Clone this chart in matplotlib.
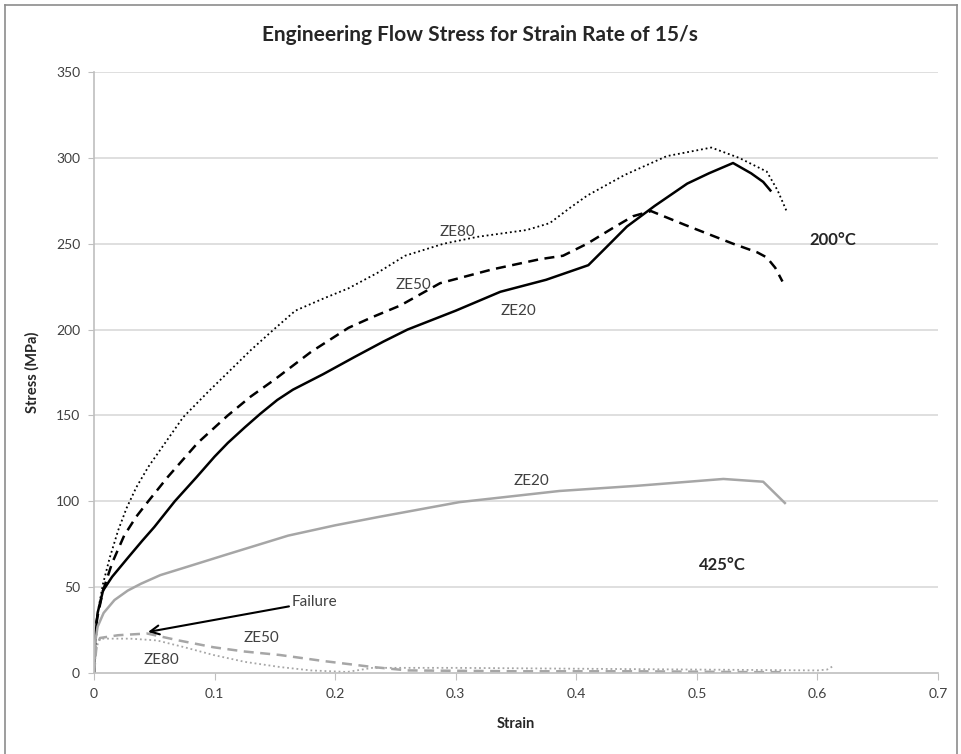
import matplotlib
matplotlib.use("Agg")
import matplotlib.pyplot as plt
from matplotlib.lines import Line2D

plt.rcParams['font.family'] = ['Lato', 'DejaVu Sans']

# ---- data ----
ze20_200_x = [0, 0.001, 0.003, 0.0075, 0.015, 0.028, 0.04, 0.05, 0.067, 0.085, 0.1, 0.111, 0.125, 0.138, 0.152, 0.165,
              0.19, 0.216, 0.24, 0.26, 0.3, 0.337, 0.375, 0.41, 0.425, 0.442, 0.465, 0.492, 0.51, 0.53, 0.545, 0.555, 0.561]
ze20_200_y = [0, 20, 35, 48, 56, 67, 77, 85, 100, 114, 126, 134, 143, 151, 159, 165,
              174, 184, 193, 200, 211, 222, 229, 237.5, 248, 260, 272, 285, 291, 297, 291, 286, 281]

ze50_200_x = [0, 0.002, 0.0075, 0.015, 0.025, 0.035, 0.045, 0.061, 0.086, 0.111, 0.13, 0.150, 0.18, 0.211, 0.23, 0.254, 0.287,
              0.33, 0.37, 0.389, 0.409, 0.43, 0.447, 0.462, 0.49, 0.53, 0.55, 0.558, 0.565, 0.571]
ze50_200_y = [0, 30, 48, 64, 80, 91, 100, 114, 134, 150, 161, 171, 187, 201, 207, 214, 227,
              235, 241, 243, 250, 259, 266, 269, 261, 250, 245, 242, 236, 228]

ze80_200_x = [0, 0.003, 0.0075, 0.013, 0.02, 0.027, 0.035, 0.045, 0.055, 0.074, 0.095, 0.114, 0.13, 0.149, 0.167, 0.19, 0.211,
              0.235, 0.258, 0.29, 0.318, 0.359, 0.378, 0.395, 0.409, 0.44, 0.475, 0.512, 0.535, 0.558, 0.567, 0.575]
ze80_200_y = [0, 35, 52, 67, 83, 96, 108, 120, 130, 149, 164, 177, 188, 200, 211, 218, 224,
              233, 243, 250, 254, 258, 262, 271, 278, 290, 301, 306, 300, 292, 281, 268]

ze20_425_x = [0, 0.001, 0.003, 0.008, 0.017, 0.028, 0.039, 0.055, 0.078, 0.11, 0.161, 0.2, 0.237, 0.303, 0.386, 0.45, 0.522,
              0.555, 0.573]
ze20_425_y = [0, 18, 27, 35, 42.5, 48, 52, 57, 62, 69, 80, 86, 91, 99.5, 106, 109, 113, 111.4, 99]

ze50_425_x = [0, 0.002, 0.005, 0.02, 0.044, 0.07, 0.099, 0.125, 0.154, 0.19, 0.231, 0.26, 0.35, 0.45, 0.55, 0.57]
ze50_425_y = [0, 15, 20.4, 22, 23, 19, 15, 12.5, 10.5, 7, 3.5, 1.5, 1, 1, 0.5, 0.5]

ze80_425_x = [0, 0.002, 0.005, 0.03, 0.052, 0.075, 0.099, 0.125, 0.154, 0.18, 0.21, 0.231, 0.3, 0.4, 0.5, 0.6, 0.608, 0.613]
ze80_425_y = [0, 15, 20, 20, 19, 15, 10.5, 6.5, 3.5, 1.5, 0.6, 3, 3, 2.5, 2, 1.5, 2, 4]

x_ticks = [0, 0.1, 0.2, 0.3, 0.4, 0.5, 0.6, 0.7]
x_tick_labels = ["0", "0.1", "0.2", "0.3", "0.4", "0.5", "0.6", "0.7"]
y_ticks = [0, 50, 100, 150, 200, 250, 300, 350]
y_tick_labels = ["0", "50", "100", "150", "200", "250", "300", "350"]

title = "Engineering Flow Stress for Strain Rate of 15/s"

# ---- figure ----
fig = plt.figure(figsize=(9.61, 7.54), dpi=100)
ax = fig.add_axes([94/961, 1-673/754, (938-94)/961, (673-72)/754])

grid_c = '#d9d9d9'
for yv in y_ticks[1:]:
    ax.axhline(yv, color=grid_c, lw=1.2, zorder=0)

black = '#000000'
gray = '#a6a6a6'
ax.plot(ze20_200_x, ze20_200_y, color=black, lw=1.8, solid_joinstyle='round')
ax.plot(ze50_200_x, ze50_200_y, color=black, lw=1.8, dashes=(4, 2.6), dash_joinstyle='round')
ax.plot(ze80_200_x, ze80_200_y, color=black, lw=1.3, dashes=(1, 1.6))
ax.plot(ze20_425_x, ze20_425_y, color=gray, lw=1.8, solid_joinstyle='round')
ax.plot(ze50_425_x, ze50_425_y, color=gray, lw=1.8, dashes=(4, 2.6), dash_joinstyle='round')
ax.plot(ze80_425_x, ze80_425_y, color=gray, lw=1.3, dashes=(1, 1.6))

ax.set_xlim(0, 0.7)
ax.set_ylim(0, 350)
ax.set_xticks(x_ticks)
ax.set_xticklabels(x_tick_labels)
ax.set_yticks(y_ticks)
ax.set_yticklabels(y_tick_labels)

for s in ['top', 'right']:
    ax.spines[s].set_visible(False)
ax.spines['left'].set_color('#bfbfbf')
ax.spines['bottom'].set_color('#bfbfbf')
ax.spines['left'].set_linewidth(1.2)
ax.spines['bottom'].set_linewidth(1.2)
ax.tick_params(axis='x', direction='out', length=5, color='#bfbfbf', labelsize=10, labelcolor='#404040', pad=6)
ax.tick_params(axis='y', direction='out', length=4, color='#bfbfbf', labelsize=10, labelcolor='#404040', pad=6)

ax.set_xlabel("Strain", fontsize=10.5, fontweight='bold', color='#262626', labelpad=12)
ax.set_ylabel("Stress (MPa)", fontsize=10.5, fontweight='bold', color='#262626', labelpad=12)
fig.text(480/961, 1-35/754, title, ha='center', va='center', fontsize=15, fontweight='bold', color='#262626')

lab_c = '#404040'
ax.text(0.301, 257, "ZE80", ha='center', va='center', fontsize=11, color=lab_c)
ax.text(0.265, 226, "ZE50", ha='center', va='center', fontsize=11, color=lab_c)
ax.text(0.352, 210.7, "ZE20", ha='center', va='center', fontsize=11, color=lab_c)
ax.text(0.613, 252, "200°C", ha='center', va='center', fontsize=12, fontweight='bold', color='#262626')
ax.text(0.363, 111.7, "ZE20", ha='center', va='center', fontsize=11, color=lab_c)
ax.text(0.521, 63, "425°C", ha='center', va='center', fontsize=12, fontweight='bold', color='#262626')
ax.text(0.139, 20.4, "ZE50", ha='center', va='center', fontsize=11, color=lab_c)
ax.text(0.056, 7.6, "ZE80", ha='center', va='center', fontsize=11, color=lab_c)
ax.annotate("Failure", xy=(0.0448, 23.9), xytext=(0.164, 41.5), ha='left', va='center',
            fontsize=11, color=lab_c,
            arrowprops=dict(arrowstyle='->', color='black', lw=1.5, shrinkA=0, shrinkB=0,
                            mutation_scale=16))

# outer frame
bc = '#8c8c8c'
fig.add_artist(Line2D([5/961, 5/961], [0, 1-5/754], color=bc, lw=1.2, transform=fig.transFigure))
fig.add_artist(Line2D([5/961, 957/961], [1-5/754, 1-5/754], color=bc, lw=1.2, transform=fig.transFigure))
fig.add_artist(Line2D([957/961, 957/961], [0, 1-5/754], color=bc, lw=1.2, transform=fig.transFigure))

fig.savefig("out.png", dpi=100)
